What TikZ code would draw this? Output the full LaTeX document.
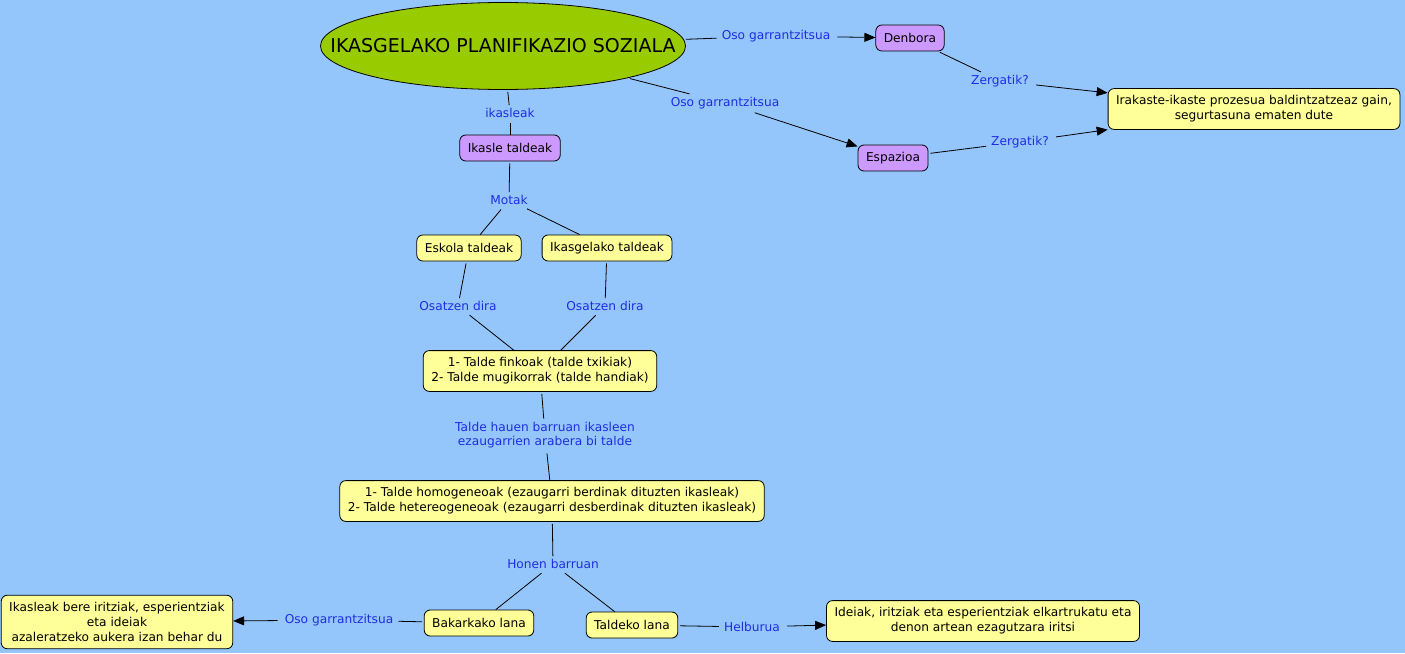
\documentclass[tikz,border=0pt]{standalone}
\usepackage{fontspec}
\setmainfont{DejaVu Sans}
\usetikzlibrary{shapes.geometric,arrows.meta}
\definecolor{mapback}{RGB}{148,198,252}
\definecolor{topicgreen}{RGB}{153,204,0}
\definecolor{conceptviolet}{RGB}{204,153,255}
\definecolor{conceptyellow}{RGB}{255,255,153}
\definecolor{linkblue}{RGB}{30,45,225}
\tikzset{
    concept/.style={draw,rounded corners=6pt,line width=0.8pt,inner xsep=8pt,inner ysep=7pt,
        minimum height=26pt,align=center,font=\fontsize{12.2}{15}\selectfont},
    violet/.style={concept,fill=conceptviolet},
    yellow/.style={concept,fill=conceptyellow},
    linklabel/.style={text=linkblue,inner xsep=5pt,inner ysep=3pt,align=center,
        font=\fontsize{12.2}{14.5}\selectfont},
    link/.style={line width=0.8pt,shorten <=2pt},
    arrowlink/.style={link,-{Triangle[length=11pt,width=9pt]}}
}
\def\ConceptMap{
    \node[ellipse,draw,line width=0.8pt,fill=topicgreen,minimum width=365pt,minimum height=87pt,
        inner sep=0pt,font=\fontsize{19}{22}\selectfont] (title) at (503,46) {\makebox[0pt]{IKASGELAKO PLANIFIKAZIO SOZIALA}};
    \node[violet] (denbora) at (910,38) {Denbora};
    \node[violet] (espazioa) at (893,158) {Espazioa};
    \node[violet] (taldeak) at (510,148) {Ikasle taldeak};
    \node[yellow] (irakaste) at (1254,109) {Irakaste-ikaste prozesua baldintzatzeaz gain,\\segurtasuna ematen dute};
    \node[yellow] (eskola) at (469,248) {Eskola taldeak};
    \node[yellow] (ikasgela) at (607,248) {Ikasgelako taldeak};
    \node[yellow] (finkoak) at (540,371) {1- Talde finkoak (talde txikiak)\\2- Talde mugikorrak (talde handiak)};
    \node[yellow] (homogeneo) at (552,501) {1- Talde homogeneoak (ezaugarri berdinak dituzten ikasleak)\\2- Talde hetereogeneoak (ezaugarri desberdinak dituzten ikasleak)};
    \node[yellow] (bakarka) at (479,623) {Bakarkako lana};
    \node[yellow] (taldeko) at (632,625) {Taldeko lana};
    \node[yellow] (iritziak) at (117,622) {Ikasleak bere iritziak, esperientziak\\eta ideiak\\ azaleratzeko aukera izan behar du};
    \node[yellow] (ideiak) at (983,621) {Ideiak, iritziak eta esperientziak elkartrukatu eta\\denon artean ezagutzara iritsi};
    % link labels
    \node[linklabel] (oso-a) at (776,36) {Oso garrantzitsua};
    \node[linklabel] (oso-b) at (725,103) {Oso garrantzitsua};
    \node[linklabel] (zerg-a) at (1000,81) {Zergatik?};
    \node[linklabel] (zerg-b) at (1020,142) {Zergatik?};
    \node[linklabel] (ikasleak) at (510,113) {ikasleak};
    \node[linklabel] (motak) at (509,200) {Motak};
    \node[linklabel] (osatzen-a) at (458,306) {Osatzen dira};
    \node[linklabel] (osatzen-b) at (605,306) {Osatzen dira};
    \node[linklabel] (hauen) at (545,435) {Talde hauen barruan ikasleen\\ ezaugarrien arabera bi talde};
    \node[linklabel] (honen) at (553,564) {Honen barruan};
    \node[linklabel] (oso-c) at (339,620) {Oso garrantzitsua};
    \node[linklabel] (helburua) at (752,627) {Helburua};
}

\begin{document}
\begin{tikzpicture}[x=1pt,y=-1pt]
    \fill[mapback] (0,0) rectangle (1405,653);
    \useasboundingbox (0,0) rectangle (1405,653);
    \ConceptMap
    \draw[link] (title) -- (oso-a);
    \draw[arrowlink] (oso-a) -- (denbora);
    \draw[link] (title) -- (oso-b);
    \draw[arrowlink] (oso-b) -- (espazioa);
    \draw[link] (denbora) -- (zerg-a);
    \draw[arrowlink] (zerg-a) -- (irakaste);
    \draw[link] (espazioa) -- (zerg-b);
    \draw[arrowlink] (zerg-b) -- (irakaste);
    \draw[link] (title) -- (ikasleak);
    \draw[link] (ikasleak) -- (taldeak);
    \draw[link] (taldeak) -- (motak);
    \draw[link] (motak) -- (eskola);
    \draw[link] (motak) -- (ikasgela);
    \draw[link] (eskola) -- (osatzen-a);
    \draw[link] (osatzen-a) -- (finkoak);
    \draw[link] (ikasgela) -- (osatzen-b);
    \draw[link] (osatzen-b) -- (finkoak);
    \draw[link] (finkoak) -- (hauen);
    \draw[link] (hauen) -- (homogeneo);
    \draw[link] (homogeneo) -- (honen);
    \draw[link] (honen) -- (bakarka);
    \draw[link] (honen) -- (taldeko);
    \draw[link] (bakarka) -- (oso-c);
    \draw[arrowlink] (oso-c) -- (iritziak);
    \draw[link] (taldeko) -- (helburua);
    \draw[arrowlink] (helburua) -- (ideiak);
\end{tikzpicture}
\end{document}
